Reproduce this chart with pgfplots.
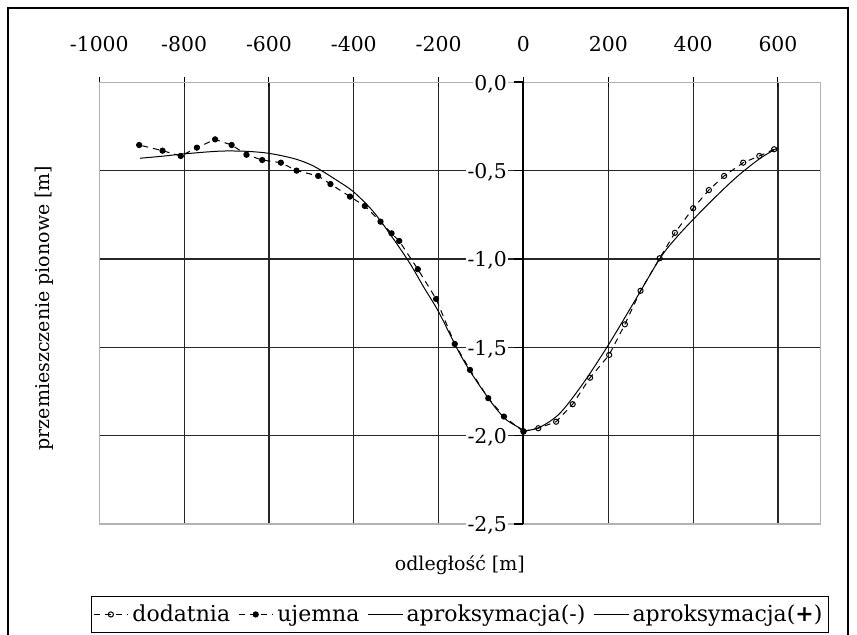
\documentclass[border=0pt]{standalone}
\usepackage{fontspec}
\setmainfont{DejaVu Serif}
\usepackage{pgfplots}
\pgfplotsset{compat=1.18}

\pgfplotsset{
  numfmt/.style={/pgf/number format/.cd, use comma, 1000 sep={}, assume math mode=true},
}

\begin{document}
\begin{tikzpicture}
% page = 857 x 635 px, 1 px = 0.5pt
\path[use as bounding box] (0,0) rectangle (428.5pt,-317.5pt);
\draw[line width=0.7pt] (4pt,-320pt) -- (4pt,-4pt) -- (424pt,-4pt) -- (424pt,-320pt);

\begin{axis}[
  at={(49.65pt,-41.15pt)}, anchor=north west,
  scale only axis, width=360.55pt, height=220.85pt,
  xmin=-1000, xmax=700, ymin=-2.5, ymax=0,
  numfmt,
  axis line style={gray!60, line width=0.6pt},
  xtick={-1000,-800,...,600},
  ytick={-2,-1.5,-1,-0.5,0}, yticklabels={}, ytick style={draw=none},
  xticklabel pos=upper, xtick pos=upper,
  x tick style={black, line width=0.5pt}, tick align=center, major tick length=5pt,
  xticklabel style={font=\fontsize{10.2}{12}\selectfont, yshift=9pt},
  grid=major, major grid style={black!85, line width=0.6pt},
  xlabel={odległość [m]},
  xlabel style={at={(axis description cs:0.5,-0.093)}, anchor=center, font=\fontsize{9.5}{12}\selectfont},
  ylabel={przemieszczenie pionowe [m]},
  ylabel style={at={(axis description cs:-0.076,0.489)}, anchor=center, font=\fontsize{9.5}{12}\selectfont},
  legend style={at={(0.5,-0.163)}, anchor=north, legend columns=4, draw=black, line width=0.6pt,
    font=\fontsize{11}{13}\selectfont, inner xsep=1pt, inner ysep=2pt,
    /tikz/every even column/.append style={column sep=2pt}},
  legend image post style={line width=0.5pt},
]
\addplot[black, line width=0.5pt, dash pattern=on 3pt off 2.5pt, mark=o, mark size=1.3pt,
  mark options={solid}] coordinates {
  (0,-1.975) (35,-1.958) (77,-1.921) (116,-1.822) (157,-1.672) (202,-1.543)
  (239,-1.370) (276,-1.180) (321,-0.996) (357,-0.852) (400,-0.713) (437,-0.610)
  (473,-0.530) (518,-0.455) (556,-0.417) (591,-0.379)
};
\addlegendentry{dodatnia}
\addplot[black, line width=0.5pt, dash pattern=on 3pt off 2.5pt, mark=*, mark size=1.3pt,
  mark options={solid}] coordinates {
  (0,-1.977) (-46,-1.892) (-83,-1.788) (-126,-1.628) (-162,-1.481) (-206,-1.226)
  (-249,-1.058) (-293,-0.898) (-311,-0.855) (-337,-0.789) (-374,-0.700) (-409,-0.647)
  (-455,-0.576) (-484,-0.530) (-535,-0.500) (-572,-0.455) (-616,-0.440) (-653,-0.410)
  (-688,-0.355) (-727,-0.323) (-770,-0.370) (-808,-0.417) (-851,-0.387) (-906,-0.355)
};
\addlegendentry{ujemna}
\addplot[black, line width=0.5pt, smooth] coordinates {
  (-904,-0.430) (-850,-0.418) (-808,-0.407) (-750,-0.395) (-708,-0.389) (-660,-0.390)
  (-613,-0.398) (-575,-0.413) (-535,-0.436) (-500,-0.468) (-472,-0.506) (-440,-0.555)
  (-401,-0.619) (-354,-0.732) (-310,-0.875) (-268,-1.024) (-235,-1.160) (-201,-1.295)
  (-157,-1.505) (-130,-1.620) (-102,-1.722) (-70,-1.830) (-40,-1.911) (0,-1.968)
};
\addlegendentry{aproksymacja(-)}
\addplot[black, line width=0.5pt, smooth] coordinates {
  (0,-1.975) (39,-1.952) (86,-1.873) (141,-1.703) (200,-1.487) (259,-1.251)
  (322,-0.996) (360,-0.880) (399,-0.779) (450,-0.655) (503,-0.535) (557,-0.432)
  (600,-0.370)
};
\addlegendentry{aproksymacja(\textbf{+})}
\end{axis}

\begin{axis}[
  at={(49.65pt,-41.15pt)}, anchor=north west,
  scale only axis, width=360.55pt, height=220.85pt,
  xmin=-1000, xmax=700, ymin=-2.5, ymax=0,
  axis x line=none, axis y line=center,
  axis line style={black, line width=1pt, -},
  ytick={-2.5,-2,-1.5,-1,-0.5,0}, xtick=\empty,
  yticklabels={{\textrm{-2,5}},{\textrm{-2,0}},{\textrm{-1,5}},{\textrm{-1,0}},{\textrm{-0,5}},{\textrm{0,0}}},
  tick align=outside, major tick length=4.5pt, y tick style={black, line width=0.8pt},
  yticklabel style={font=\fontsize{10.2}{12}\selectfont, anchor=east, xshift=-3pt, yshift=-0.8pt,
    fill=white, inner sep=0.6pt},
]
\end{axis}
\end{tikzpicture}
\end{document}
